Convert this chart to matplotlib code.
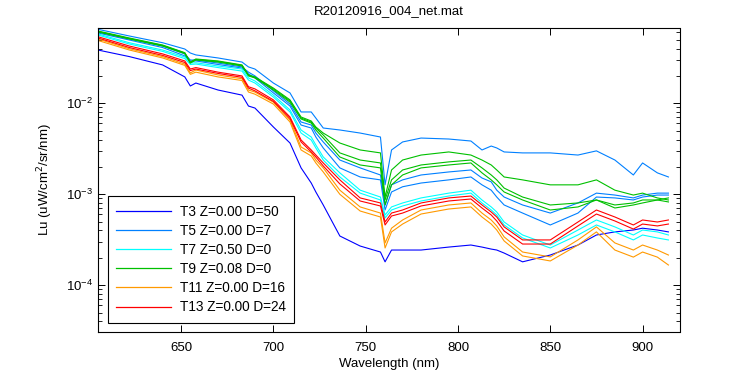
import matplotlib
matplotlib.use("Agg")
import matplotlib.pyplot as plt
from matplotlib.ticker import LogLocator, FixedLocator, NullFormatter

plt.rcParams['font.family'] = ['Liberation Sans', 'DejaVu Sans']

title = "R20120916_004_net.mat"
xlabel = "Wavelength (nm)"
ylabel = "Lu (uW/cm$^2$/sr/nm)"
xticks = [650, 700, 750, 800, 850, 900]

wl = [605, 622, 640, 652, 655, 658, 670, 683, 686.5, 690, 700, 709, 715, 720.5, 723, 727,
      736, 747, 758, 760.5, 764, 770, 780, 795, 807, 813, 818, 821, 825, 835, 850, 865,
      875, 885, 895, 900, 908, 914]

# T3 Z=0.00 D=50
t3 = [3.85e-2, 3.26e-2, 2.64e-2, 1.95e-2, 1.55e-2, 1.67e-2, 1.40e-2, 1.23e-2, 9.33e-3, 8.87e-3,
      5.49e-3, 3.66e-3, 1.95e-3, 1.33e-3, 1.06e-3, 7.63e-4, 3.48e-4, 2.70e-4, 2.32e-4, 1.81e-4,
      2.44e-4, 2.44e-4, 2.44e-4, 2.63e-4, 2.77e-4, 2.63e-4, 2.50e-4, 2.44e-4, 2.26e-4, 1.81e-4,
      2.15e-4, 2.77e-4, 3.57e-4, 3.86e-4, 4.05e-4, 4.24e-4, 4.05e-4, 3.86e-4]

# T5 Z=0.00 D=7
t5_a = [6.5e-2, 5.49e-2, 4.63e-2, 3.95e-2, 3.57e-2, 3.40e-2, 3.15e-2, 2.84e-2, 2.51e-2, 2.38e-2,
        1.67e-2, 1.30e-2, 8.03e-3, 8.03e-3, 6.88e-3, 5.35e-3, 5.09e-3, 4.71e-3, 4.26e-3, 1.27e-3,
        3.07e-3, 3.76e-3, 4.15e-3, 4.05e-3, 3.85e-3, 3.07e-3, 3.39e-3, 3.23e-3, 2.92e-3, 2.85e-3,
        2.85e-3, 2.70e-3, 3.0e-3, 2.38e-3, 1.63e-3, 2.21e-3, 1.72e-3, 1.55e-3]
t5_b = [6.08e-2, 5.09e-2, 4.26e-2, 3.49e-2, 2.99e-2, 2.99e-2, 2.77e-2, 2.51e-2, 2.20e-2, 2.0e-2,
        1.37e-2, 9.81e-3, 6.23e-3, 5.77e-3, 4.71e-3, 3.76e-3, 2.38e-3, 1.95e-3, 1.63e-3, 7.63e-4,
        1.27e-3, 1.44e-3, 1.63e-3, 1.76e-3, 1.85e-3, 1.51e-3, 1.37e-3, 1.11e-3, 9.33e-4, 7.63e-4,
        6.22e-4, 8.03e-4, 1.03e-3, 9.81e-4, 9.12e-4, 9.81e-4, 1.03e-3, 1.03e-3]
t5_c = [5.93e-2, 4.96e-2, 4.10e-2, 3.32e-2, 2.92e-2, 2.92e-2, 2.67e-2, 2.44e-2, 2.10e-2, 1.90e-2,
        1.30e-2, 9.33e-3, 5.77e-3, 5.35e-3, 4.26e-3, 3.23e-3, 1.95e-3, 1.55e-3, 1.44e-3, 6.72e-4,
        1.06e-3, 1.21e-3, 1.33e-3, 1.44e-3, 1.55e-3, 1.27e-3, 1.11e-3, 9.33e-4, 7.63e-4, 6.22e-4,
        4.60e-4, 6.22e-4, 9.33e-4, 9.12e-4, 8.66e-4, 9.33e-4, 9.81e-4, 9.81e-4]

# T7 Z=0.50 D=0
t7_a = [5.78e-2, 4.63e-2, 3.85e-2, 3.23e-2, 2.77e-2, 2.79e-2, 2.57e-2, 2.38e-2, 1.90e-2, 1.76e-2,
        1.23e-2, 8.44e-3, 5.09e-3, 4.26e-3, 3.48e-3, 2.57e-3, 1.72e-3, 1.11e-3, 9.33e-4, 5.92e-4,
        7.26e-4, 8.03e-4, 9.12e-4, 1.03e-3, 1.11e-3, 8.66e-4, 7.26e-4, 6.39e-4, 4.96e-4, 3.57e-4,
        2.77e-4, 4.05e-4, 5.22e-4, 4.38e-4, 3.57e-4, 4.05e-4, 3.86e-4, 3.57e-4]
t7_b = [5.63e-2, 4.48e-2, 3.72e-2, 3.10e-2, 2.67e-2, 2.70e-2, 2.47e-2, 2.26e-2, 1.80e-2, 1.67e-2,
        1.17e-2, 8.03e-3, 4.71e-3, 3.95e-3, 3.23e-3, 2.38e-3, 1.55e-3, 1.03e-3, 8.66e-4, 5.49e-4,
        6.72e-4, 7.44e-4, 8.44e-4, 9.57e-4, 1.03e-3, 8.03e-4, 6.72e-4, 5.92e-4, 4.60e-4, 3.31e-4,
        2.57e-4, 3.57e-4, 4.60e-4, 3.86e-4, 3.15e-4, 3.57e-4, 3.31e-4, 3.15e-4]

# T9 Z=0.08 D=0
t9_a = [6.23e-2, 5.22e-2, 4.37e-2, 3.60e-2, 2.84e-2, 3.07e-2, 2.92e-2, 2.64e-2, 2.05e-2, 1.95e-2,
        1.47e-2, 1.09e-2, 7.07e-3, 6.39e-3, 5.49e-3, 4.71e-3, 3.66e-3, 3.07e-3, 2.85e-3, 9.33e-4,
        1.85e-3, 2.38e-3, 2.70e-3, 2.92e-3, 2.70e-3, 2.38e-3, 2.10e-3, 1.85e-3, 1.55e-3, 1.44e-3,
        1.27e-3, 1.27e-3, 1.44e-3, 1.11e-3, 9.81e-4, 1.03e-3, 9.12e-4, 8.66e-4]
t9_b = [6.15e-2, 5.15e-2, 4.32e-2, 3.57e-2, 2.79e-2, 3.03e-2, 2.88e-2, 2.61e-2, 2.02e-2, 1.93e-2,
        1.44e-2, 1.06e-2, 6.88e-3, 6.23e-3, 5.35e-3, 4.48e-3, 2.85e-3, 2.38e-3, 2.21e-3, 8.66e-4,
        1.44e-3, 1.85e-3, 2.10e-3, 2.27e-3, 2.38e-3, 1.95e-3, 1.63e-3, 1.44e-3, 1.17e-3, 9.33e-4,
        7.63e-4, 8.03e-4, 8.66e-4, 7.63e-4, 8.03e-4, 8.66e-4, 8.66e-4, 9.12e-4]
t9_c = [6.08e-2, 5.09e-2, 4.26e-2, 3.52e-2, 2.77e-2, 2.99e-2, 2.84e-2, 2.57e-2, 2.0e-2, 1.90e-2,
        1.40e-2, 1.03e-2, 6.72e-3, 6.07e-3, 5.09e-3, 4.15e-3, 2.57e-3, 2.10e-3, 1.95e-3, 7.63e-4,
        1.27e-3, 1.63e-3, 1.95e-3, 2.10e-3, 2.21e-3, 1.72e-3, 1.44e-3, 1.27e-3, 1.06e-3, 8.66e-4,
        6.72e-4, 7.26e-4, 8.66e-4, 7.07e-4, 7.63e-4, 8.03e-4, 8.66e-4, 8.24e-4]

# T11 Z=0.00 D=16
t11_a = [5.09e-2, 3.98e-2, 3.26e-2, 2.70e-2, 2.16e-2, 2.32e-2, 2.05e-2, 1.86e-2, 1.40e-2, 1.33e-2,
         1.03e-2, 6.55e-3, 3.31e-3, 2.85e-3, 2.38e-3, 1.95e-3, 1.11e-3, 7.26e-4, 6.22e-4, 2.92e-4,
         4.24e-4, 5.22e-4, 6.72e-4, 7.63e-4, 8.03e-4, 6.22e-4, 5.22e-4, 4.49e-4, 3.40e-4, 2.32e-4,
         2.05e-4, 3.15e-4, 4.38e-4, 2.92e-4, 2.44e-4, 2.77e-4, 2.44e-4, 2.15e-4]
t11_b = [4.90e-2, 3.85e-2, 3.15e-2, 2.61e-2, 2.08e-2, 2.20e-2, 1.95e-2, 1.78e-2, 1.33e-2, 1.26e-2,
         9.81e-3, 6.23e-3, 3.07e-3, 2.64e-3, 2.21e-3, 1.76e-3, 1.0e-3, 6.55e-4, 5.63e-4, 2.57e-4,
         3.86e-4, 4.71e-4, 6.07e-4, 6.89e-4, 7.26e-4, 5.63e-4, 4.71e-4, 4.05e-4, 3.07e-4, 2.10e-4,
         1.85e-4, 2.77e-4, 3.86e-4, 2.44e-4, 2.04e-4, 2.32e-4, 2.04e-4, 1.67e-4]

# T13 Z=0.00 D=24
t13_a = [5.39e-2, 4.26e-2, 3.49e-2, 2.92e-2, 2.38e-2, 2.47e-2, 2.20e-2, 2.0e-2, 1.52e-2, 1.44e-2,
         1.09e-2, 7.07e-3, 3.95e-3, 3.07e-3, 2.70e-3, 2.21e-3, 1.44e-3, 9.12e-4, 8.03e-4, 4.96e-4,
         6.22e-4, 6.72e-4, 8.03e-4, 9.12e-4, 9.57e-4, 7.63e-4, 6.39e-4, 5.63e-4, 4.38e-4, 3.15e-4,
         3.15e-4, 4.96e-4, 6.72e-4, 5.63e-4, 4.60e-4, 5.22e-4, 4.96e-4, 5.22e-4]
t13_b = [5.22e-2, 4.10e-2, 3.36e-2, 2.81e-2, 2.29e-2, 2.38e-2, 2.13e-2, 1.93e-2, 1.47e-2, 1.37e-2,
         1.05e-2, 6.80e-3, 3.76e-3, 2.92e-3, 2.57e-3, 2.05e-3, 1.30e-3, 8.44e-4, 7.44e-4, 4.60e-4,
         5.77e-4, 6.22e-4, 7.44e-4, 8.44e-4, 8.88e-4, 7.07e-4, 5.92e-4, 5.09e-4, 3.95e-4, 2.84e-4,
         2.84e-4, 4.49e-4, 6.07e-4, 5.09e-4, 4.15e-4, 4.71e-4, 4.49e-4, 4.71e-4]

groups = [
    ("T3 Z=0.00 D=50", "#0000ff", [t3]),
    ("T5 Z=0.00 D=7", "#0080ff", [t5_a, t5_b, t5_c]),
    ("T7 Z=0.50 D=0", "#00ffff", [t7_a, t7_b]),
    ("T9 Z=0.08 D=0", "#00c000", [t9_a, t9_b, t9_c]),
    ("T11 Z=0.00 D=16", "#ff9900", [t11_a, t11_b]),
    ("T13 Z=0.00 D=24", "#ff0000", [t13_a, t13_b]),
]

fig = plt.figure(figsize=(7.5, 3.75), dpi=100)
ax = fig.add_axes([0.1307, 0.1155, 0.906 - 0.1307, 0.9245 - 0.1155])

handles = []
for label, color, lines in groups:
    for i, ys in enumerate(lines):
        ln, = ax.plot(wl, ys, color=color, lw=0.8)
        if i == 0:
            ln.set_label(label)
            handles.append(ln)

ax.set_yscale('log')
ax.set_xlim(605, 920)
ax.set_ylim(3.09e-5, 6.67e-2)
ax.xaxis.set_major_locator(FixedLocator(xticks))
ax.yaxis.set_major_locator(LogLocator(base=10, numticks=10))
ax.yaxis.set_minor_locator(LogLocator(base=10, subs=range(2, 10), numticks=20))
ax.yaxis.set_minor_formatter(NullFormatter())

ax.tick_params(which='both', direction='in', top=True, right=True, labelsize=9.5, colors='black')
ax.tick_params(axis='x', which='major', pad=7.5)
ax.tick_params(which='major', length=5, width=0.7)
ax.tick_params(which='minor', length=3, width=0.6)
for sp in ax.spines.values():
    sp.set_linewidth(0.8)
    sp.set_color('black')

ax.set_title(title, fontsize=9.5, pad=10)
ax.set_xlabel(xlabel, fontsize=9.5, labelpad=3)
ax.set_ylabel(ylabel, fontsize=9.5, labelpad=8)

leg = ax.legend(handles=handles, loc='lower left', bbox_to_anchor=(0.017, 0.03),
                fontsize=9.8, frameon=True, fancybox=False, edgecolor='black',
                framealpha=1, handlelength=4.0, handletextpad=0.7, borderpad=0.6,
                labelspacing=0.38, borderaxespad=0)
leg.get_frame().set_linewidth(0.8)
for h in leg.get_lines():
    h.set_linewidth(0.9)

fig.savefig("out.png", dpi=100)
